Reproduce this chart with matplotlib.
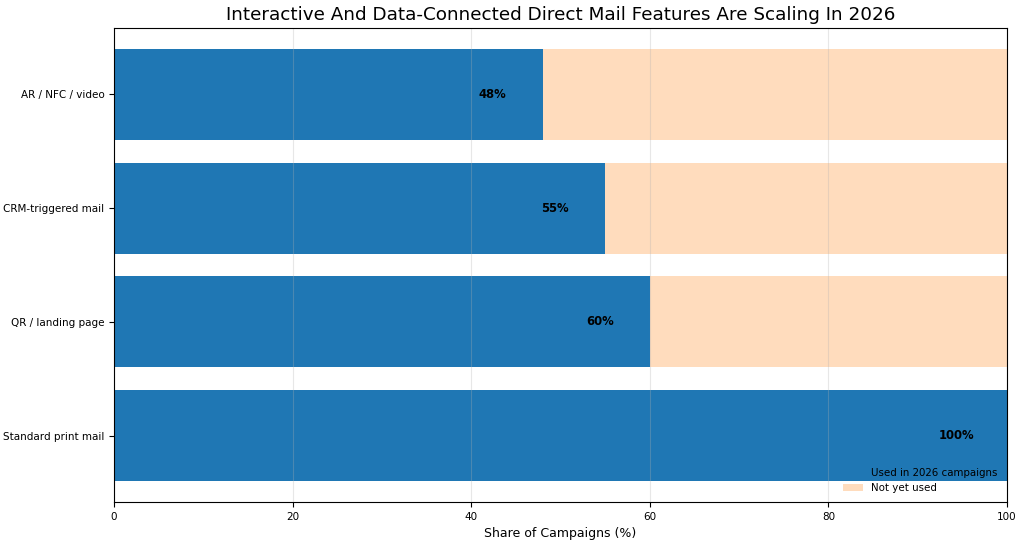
import matplotlib
matplotlib.use("Agg")
import matplotlib.pyplot as plt

categories = ["Standard print mail", "QR / landing page", "CRM-triggered mail", "AR / NFC / video"]
used = [100, 60, 55, 48]
not_used = [100 - v for v in used]
labels = ["100%", "60%", "55%", "48%"]

fig = plt.figure(figsize=(10.24, 5.44), dpi=100)
ax = fig.add_axes([114/1024, 1 - 502/544, (1007-114)/1024, (502-28)/544])

ax.barh(categories, used, height=0.8, color="#1f77b4", label="Used in 2026 campaigns")
ax.barh(categories, not_used, left=used, height=0.8, color="#ffdcbd", label="Not yet used")

for i, (v, lab) in enumerate(zip(used, labels)):
    ax.text(v - 5.6, i, lab, ha="center", va="center", fontsize=8.4, fontweight="bold", color="black")

ax.set_xlim(0, 100)
ax.set_ylim(-0.585, 3.585)
ax.grid(axis="x", alpha=0.3)
ax.set_xlabel("Share of Campaigns (%)", fontsize=9)
ax.set_title("Interactive And Data-Connected Direct Mail Features Are Scaling In 2026", fontsize=13.2)
ax.tick_params(labelsize=7.5)
ax.legend(loc="lower right", frameon=False, fontsize=7.4)

fig.savefig("out.png", dpi=100)
